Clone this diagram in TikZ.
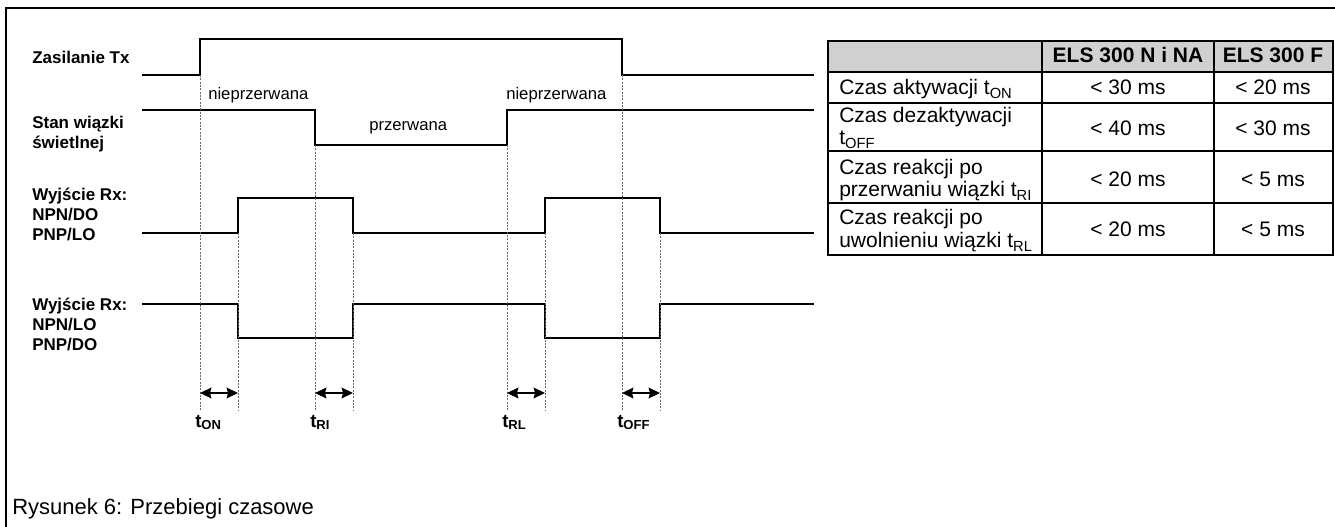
\documentclass[tikz,border=0pt]{standalone}
\usepackage{fontspec}
\setmainfont{Liberation Sans}
\usetikzlibrary{arrows.meta}
\definecolor{headgray}{RGB}{208,208,208}

\begin{document}
\begin{tikzpicture}[x=0.75pt,y=-0.75pt,
    sig/.style={line width=1.4pt,line join=miter},
    guide/.style={gray!80!black,line width=0.4pt,dash pattern=on 1.5pt off 1pt},
    span/.style={{Stealth[length=8.5pt,width=8pt,inset=1pt]}-{Stealth[length=8.5pt,width=8pt,inset=1pt]},line width=1.3pt},
    lbl/.style={font=\fontsize{12.75}{15}\selectfont\bfseries,align=left,anchor=west,inner sep=0pt},
    state/.style={font=\fontsize{12.5}{15}\selectfont,anchor=base west,inner sep=0pt},
    tlbl/.style={font=\fontsize{14}{16}\selectfont\bfseries,anchor=base west,inner sep=0pt},
    cell/.style={font=\fontsize{15.75}{17}\selectfont,anchor=base west,inner sep=0pt},
    val/.style={font=\fontsize{15.75}{17}\selectfont,anchor=base,inner sep=0pt},
    head/.style={font=\fontsize{15.75}{17}\selectfont\bfseries,anchor=base,inner sep=0pt}]
  \useasboundingbox (0,0) rectangle (1335,527);

  % Frame
  \draw[line width=2pt] (6,527) -- (6,8) -- (1335,8);

  % Signal names
  \node[lbl] (tx) at (32,57) {Zasilanie Tx};
  \node[lbl] (beam) at (32,134) {Stan wiązki\\świetlnej};
  \node[lbl] (outa) at (32,214) {Wyjście Rx:\\NPN/DO\\PNP/LO};
  \node[lbl] (outb) at (32,324) {Wyjście Rx:\\NPN/LO\\PNP/DO};

  % Waveforms
  \draw[sig] (142,75) -- (200,75) -- (200,39) -- (622,39) -- (622,75) -- (814,75);
  \draw[sig] (142,110) -- (315,110) -- (315,145) -- (507,145) -- (507,110) -- (814,110);
  \draw[sig] (142,233) -- (238,233) -- (238,198) -- (353,198) -- (353,233)
    -- (545,233) -- (545,198) -- (660,198) -- (660,233) -- (814,233);
  \draw[sig] (142,304) -- (238,304) -- (238,338) -- (353,338) -- (353,304)
    -- (545,304) -- (545,338) -- (660,338) -- (660,304) -- (814,304);
  \node[state] (on1) at (208,100) {nieprzerwana};
  \node[state] (off) at (369,131) {przerwana};
  \node[state] (on2) at (506,100) {nieprzerwana};

  % Timing marks
  \foreach \x/\y in {200/75, 238/233, 315/145, 353/233, 507/145, 545/233, 622/75, 660/233}
    \draw[guide] (\x,\y) -- (\x,410);
  \foreach \a/\b in {200/238, 315/353, 507/545, 622/660}
    \draw[span] (\a,393) -- (\b,393);
  \node[tlbl] (ton) at (195,427) {t\textsubscript{ON}};
  \node[tlbl] (tri) at (310,427) {t\textsubscript{RI}};
  \node[tlbl] (trl) at (502,427) {t\textsubscript{RL}};
  \node[tlbl] (toff) at (617,427) {t\textsubscript{OFF}};

  % Table
  \fill[headgray] (828,41) rectangle (1333,72);
  \foreach \y in {72,103,151,203}
    \draw[line width=1.3pt] (828,\y) -- (1333,\y);
  \foreach \x in {1042,1214}
    \draw[line width=1.3pt] (\x,41) -- (\x,255);
  \draw[line width=1.3pt] (828,41) rectangle (1333,255);
  \node[head] (hna) at (1128,63) {ELS 300 N i NA};
  \node[head] (hf) at (1273,63) {ELS 300 F};
  \node[cell] (ron) at (839,95) {Czas aktywacji t\textsubscript{ON}};
  \node[cell] (roffa) at (839,123) {Czas dezaktywacji};
  \node[cell] (roffb) at (839,145) {t\textsubscript{OFF}};
  \node[cell] (rria) at (839,175) {Czas reakcji po};
  \node[cell] (rrib) at (839,197) {przerwaniu wiązki t\textsubscript{RI}};
  \node[cell] (rrla) at (839,225) {Czas reakcji po};
  \node[cell] (rrlb) at (839,248) {uwolnieniu wiązki t\textsubscript{RL}};
  \node[val] (von) at (1128,95) {< 30 ms};
  \node[val] (fon) at (1273,95) {< 20 ms};
  \node[val] (voff) at (1128,136) {< 40 ms};
  \node[val] (foff) at (1273,136) {< 30 ms};
  \node[val] (vri) at (1128,187) {< 20 ms};
  \node[val] (fri) at (1273,187) {< 5 ms};
  \node[val] (vrl) at (1128,237) {< 20 ms};
  \node[val] (frl) at (1273,237) {< 5 ms};

  % Caption
  \node[font=\fontsize{16.5}{18}\selectfont,anchor=base west,inner sep=0pt] (cap) at (12,514) {Rysunek 6: Przebiegi czasowe};
\end{tikzpicture}
\end{document}
